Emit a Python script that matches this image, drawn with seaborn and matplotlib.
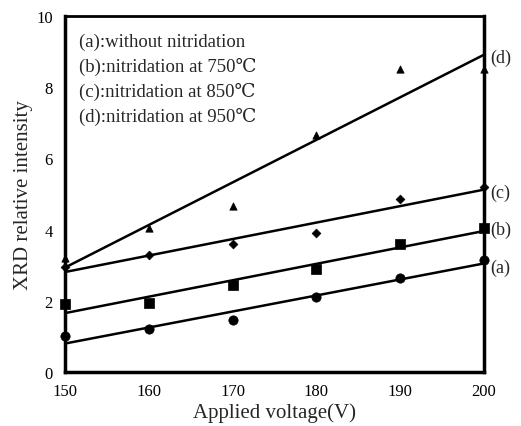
import matplotlib
matplotlib.use("Agg")
import matplotlib.pyplot as plt
import seaborn as sns
import pandas as pd

sns.set_theme(style="white")
plt.rcParams["font.family"] = ["Liberation Serif", "DejaVu Serif"]

voltage = [150, 160, 170, 180, 190, 200]
int_a = [1.0, 1.2, 1.45, 2.1, 2.65, 3.15]
int_b = [1.9, 1.95, 2.45, 2.9, 3.6, 4.05]
int_c = [2.95, 3.3, 3.6, 3.9, 4.85, 5.2]
int_d = [3.2, 4.05, 4.65, 6.65, 8.5, 8.5]
series_labels = ["(a)", "(b)", "(c)", "(d)"]
legend_lines = ["(a):without nitridation",
                "(b):nitridation at 750℃",
                "(c):nitridation at 850℃",
                "(d):nitridation at 950℃"]

series = [int_a, int_b, int_c, int_d]
markers = ["o", "s", "D", "^"]
msizes = [45, 45, 20, 28]
label_y = [2.95, 4.0, 5.05, 8.85]

fig = plt.figure(figsize=(5.21, 4.27), dpi=100)
ax = fig.add_axes([0.125, 0.1265, 0.804, 0.8335])

for vals, m, s, lab, ly in zip(series, markers, msizes, series_labels, label_y):
    df = pd.DataFrame({"v": voltage, "i": vals})
    sns.regplot(data=df, x="v", y="i", ax=ax, ci=None, truncate=True,
                marker=m, color="black",
                scatter_kws={"s": s, "clip_on": False, "zorder": 5,
                             "edgecolors": "black", "linewidths": 0.5, "alpha": 1},
                line_kws={"lw": 1.8})
    ax.text(200.8, ly, lab, fontsize=13, va="center", ha="left", clip_on=False)

for k, txt in enumerate(legend_lines):
    ax.text(151.6, 9.3 - k * 0.7, txt, fontsize=13.5, va="center", ha="left")

ax.set_xlim(150, 200)
ax.set_ylim(0, 10)
ax.set_xticks(range(150, 201, 10))
ax.set_yticks(range(0, 11, 2))
ax.set_xlabel("Applied voltage(V)", fontsize=15, labelpad=2)
ax.set_ylabel("XRD relative intensity", fontsize=15, labelpad=2)
ax.tick_params(axis="x", direction="in", length=4, width=1, labelsize=12, pad=8, colors="black")
ax.tick_params(axis="y", direction="out", length=4, width=1, labelsize=12, pad=5, colors="black")
for side in ["left", "bottom", "right"]:
    ax.spines[side].set_linewidth(2.5)
ax.spines["top"].set_linewidth(2.0)
for sp in ax.spines.values():
    sp.set_color("black")

fig.savefig("out.png", dpi=100)
